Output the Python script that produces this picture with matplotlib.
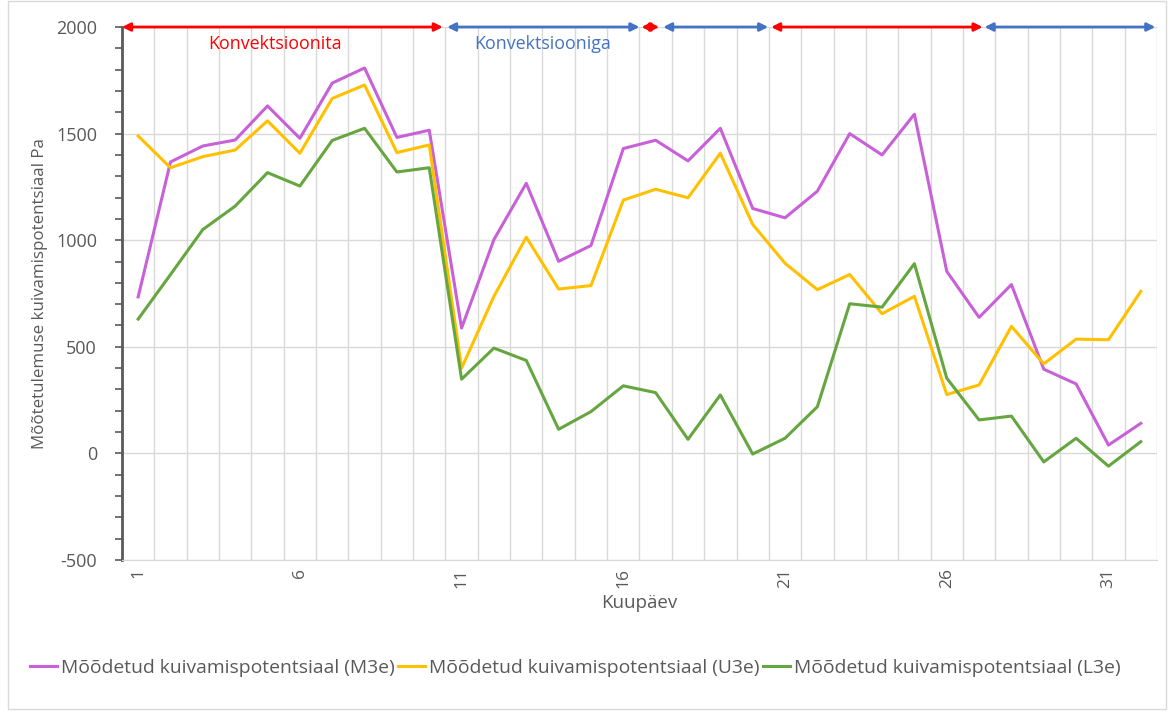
import numpy as np
import matplotlib.pyplot as plt
from matplotlib.patches import Rectangle
from matplotlib.ticker import MultipleLocator

plt.rcParams['font.family'] = ['Open Sans', 'DejaVu Sans']
plt.rcParams['axes.unicode_minus'] = False

days = np.arange(1, 33)

m3e = [734, 1367, 1442, 1470, 1630, 1478, 1737, 1808, 1482, 1516,
       588, 1003, 1267, 901, 975, 1430, 1469, 1372, 1525, 1149,
       1105, 1230, 1500, 1400, 1591, 854, 638, 792, 395, 326, 39, 141]
u3e = [1489, 1340, 1392, 1423, 1560, 1408, 1665, 1728, 1411, 1447,
       400, 737, 1014, 771, 787, 1188, 1239, 1199, 1408, 1074,
       892, 768, 839, 655, 737, 276, 321, 596, 420, 536, 533, 760]
l3e = [630, 839, 1050, 1160, 1317, 1254, 1468, 1525, 1320, 1340,
       348, 494, 436, 113, 196, 317, 285, 66, 274, -3,
       71, 219, 702, 686, 890, 353, 157, 175, -40, 71, -60, 55]

series_names = ['Mõõdetud kuivamispotentsiaal (M3e)',
                'Mõõdetud kuivamispotentsiaal (U3e)',
                'Mõõdetud kuivamispotentsiaal (L3e)']
series_colors = ['#c860d8', '#ffc000', '#66a640']

# convection periods: (start, end, with convection?)
periods = [(0.5, 10.42, False), (10.55, 16.5, True), (16.56, 17.11, False),
           (17.23, 20.48, True), (20.57, 27.11, False), (27.17, 32.45, True)]
period_labels = [('Konvektsioonita', 5.23, '#ff0000'),
                 ('Konvektsiooniga', 13.5, '#4472c4')]

fig = plt.figure(figsize=(11.74, 7.13), dpi=100)
fig.patches.append(Rectangle((0.007, 0.005), 0.986, 0.993, transform=fig.transFigure,
                             fill=False, edgecolor='#d9d9d9', lw=1))
ax = fig.add_axes([0.1039, 0.2146, 0.8816, 0.7475])

for vals, name, col in zip([m3e, u3e, l3e], series_names, series_colors):
    ax.plot(days, vals, color=col, lw=2.2, label=name, zorder=3)

ax.set_xlim(0.5, 32.5)
ax.set_ylim(-500, 2000)

# grid
ax.yaxis.set_major_locator(MultipleLocator(500))
ax.yaxis.set_minor_locator(MultipleLocator(100))
ax.grid(axis='y', which='major', color='#d9d9d9', lw=1)
for xb in np.arange(1.5, 33, 1):
    ax.axvline(xb, color='#d9d9d9', lw=1, zorder=0)

ax.set_xticks(np.arange(1, 33, 5))
ax.set_xticklabels([str(d) for d in range(1, 33, 5)], rotation=90)
ax.tick_params(axis='x', length=0, pad=6, labelsize=12.5, labelcolor='#595959')
ax.tick_params(axis='y', which='both', direction='out', length=5, width=1.2,
               color='#595959', labelsize=13, labelcolor='#595959', pad=13)

for s in ['top', 'right']:
    ax.spines[s].set_visible(False)
ax.spines['left'].set_color('#595959')
ax.spines['left'].set_linewidth(2)
ax.spines['bottom'].set_color('#d9d9d9')

ax.set_xlabel('Kuupäev', fontsize=13.5, color='#595959', labelpad=4)
ax.set_ylabel('Mõõtetulemuse kuivamispotentsiaal Pa', fontsize=12.2, color='#595959',
              labelpad=6)

# period arrows along the top
for x0, x1, conv in periods:
    col = '#4472c4' if conv else '#ff0000'
    ax.annotate('', xy=(x1, 2000), xytext=(x0, 2000),
                arrowprops=dict(arrowstyle='<|-|>', color=col, lw=2,
                                mutation_scale=12, shrinkA=0, shrinkB=0),
                annotation_clip=False, zorder=5)
for txt, xc, col in period_labels:
    ax.text(xc, 1922, txt, color=col, fontsize=12.9, ha='center', va='center')

fig.legend(loc='center', bbox_to_anchor=(0.49, 0.063), ncol=3, frameon=False,
           fontsize=13.9, handlelength=1.4, handletextpad=0.2, columnspacing=0.2,
           labelcolor='#595959')

fig.savefig('out.png', dpi=100)
